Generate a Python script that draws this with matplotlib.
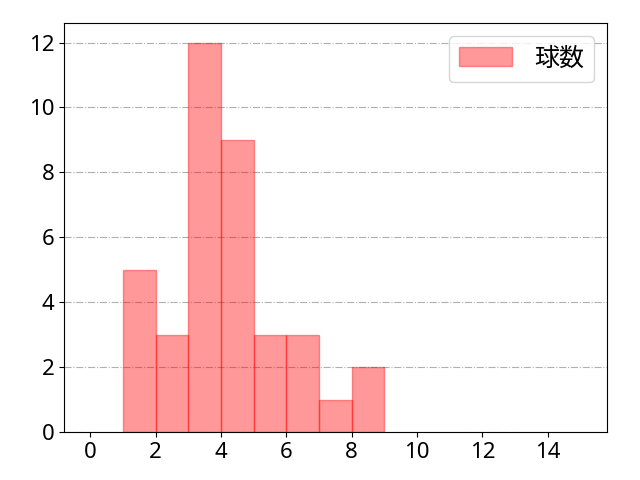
import matplotlib
matplotlib.use("Agg")
import matplotlib.pyplot as plt

plt.rcParams['font.family'] = ['Noto Sans', 'Noto Sans CJK JP', 'DejaVu Sans']

bin_left = [1, 2, 3, 4, 5, 6, 7, 8]
counts = [5, 3, 12, 9, 3, 3, 1, 2]
xticks = [0, 2, 4, 6, 8, 10, 12, 14]
yticks = [0, 2, 4, 6, 8, 10, 12]

fig, ax = plt.subplots(figsize=(6.4, 4.8), dpi=100)
fig.subplots_adjust(left=0.1, right=0.948, top=0.952, bottom=0.1)

ax.bar(bin_left, counts, width=1, align='edge', color='red', alpha=0.4,
       edgecolor='red', linewidth=1, label='球数', zorder=2)
ax.set_xlim(-0.8, 15.8)
ax.set_ylim(0, 12.6)
ax.set_xticks(xticks)
ax.set_yticks(yticks)
ax.tick_params(labelsize=16)
ax.grid(axis='y', linestyle='-.', color='#b0b0b0', linewidth=0.8, zorder=0)
ax.legend(loc='upper right', handlelength=2.1, handleheight=0.8,
          handletextpad=0.9, borderaxespad=0.5,
          prop={'family': ['Noto Sans CJK JP'], 'size': 18})

fig.savefig('out.png')
